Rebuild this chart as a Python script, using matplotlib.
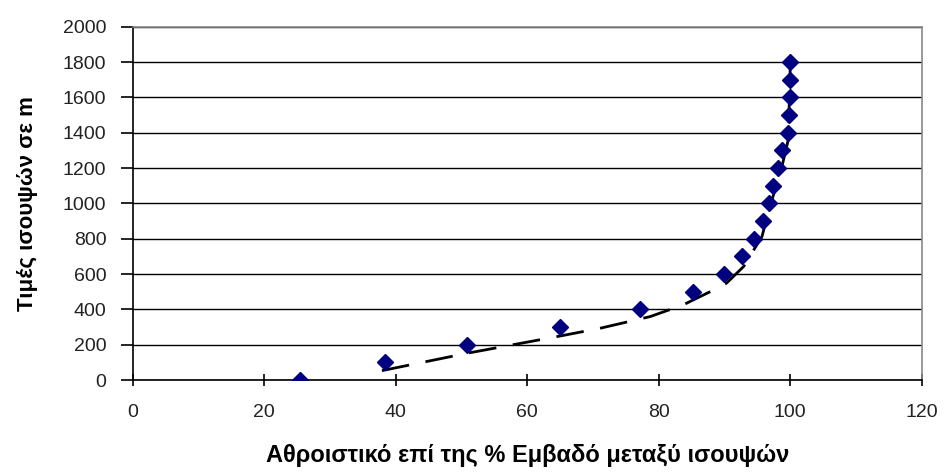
import matplotlib
matplotlib.use('Agg')
import matplotlib.pyplot as plt

plt.rcParams['font.family'] = ['Liberation Sans', 'DejaVu Sans']

# measured points (cumulative % area vs contour elevation)
elev = [0, 100, 200, 300, 400, 500, 600, 700, 800, 900,
        1000, 1100, 1200, 1300, 1400, 1500, 1600, 1700, 1800]
cum_pct = [25.5, 38.4, 50.9, 65.0, 77.2, 85.2, 89.9, 92.6, 94.5, 95.9,
           96.7, 97.4, 98.2, 98.8, 99.6, 99.8, 99.9, 99.95, 100.0]

# dashed trend curve
trend_x = [37.9, 50.8, 65.0, 71.1, 78.7, 83.7, 88.6, 90.3, 92.9, 95.7,
           96.9, 98.5, 99.7, 100.0]
trend_y = [53, 151, 249, 293, 359, 425, 514, 548, 642, 812,
           982, 1171, 1360, 1775]

x_ticks = [0, 20, 40, 60, 80, 100, 120]
y_ticks = list(range(0, 2001, 200))

fig = plt.figure(figsize=(9.48, 4.73), dpi=100)
ax = fig.add_axes([0.14, 0.1966, 0.8323, 0.747])

ax.plot(trend_x, trend_y, color='black', linewidth=2.0,
        linestyle=(0, (10, 6)), zorder=2)
ax.plot(cum_pct, elev, linestyle='none', marker='D', markersize=8,
        color='#000080', zorder=3)

ax.set_xlim(0, 120)
ax.set_ylim(0, 2000)
ax.set_xticks(x_ticks)
ax.set_yticks(y_ticks)
ax.yaxis.grid(True, color='black', linewidth=1.0)
ax.set_axisbelow(True)

for side in ['left', 'bottom']:
    ax.spines[side].set_color('black')
    ax.spines[side].set_linewidth(1.2)
for side in ['top', 'right']:
    ax.spines[side].set_color('#888888')
    ax.spines[side].set_linewidth(1.2)

ax.tick_params(axis='x', direction='inout', length=8, width=1.2,
               labelsize=14, pad=13, colors='black', labelcolor='#222222')
ax.tick_params(axis='y', direction='out', length=9, width=1.2,
               labelsize=14, pad=10, colors='black', labelcolor='#222222')

ax.set_xlabel('Αθροιστικό επί της % Εμβαδό μεταξύ ισουψών',
              fontsize=17, fontweight='bold')
ax.set_ylabel('Τιμές ισουψών σε m', fontsize=16, fontweight='bold')
ax.xaxis.set_label_coords(0.5, -0.18)
ax.yaxis.set_label_coords(-0.12, 0.5)

plt.savefig('out.png', dpi=100)
